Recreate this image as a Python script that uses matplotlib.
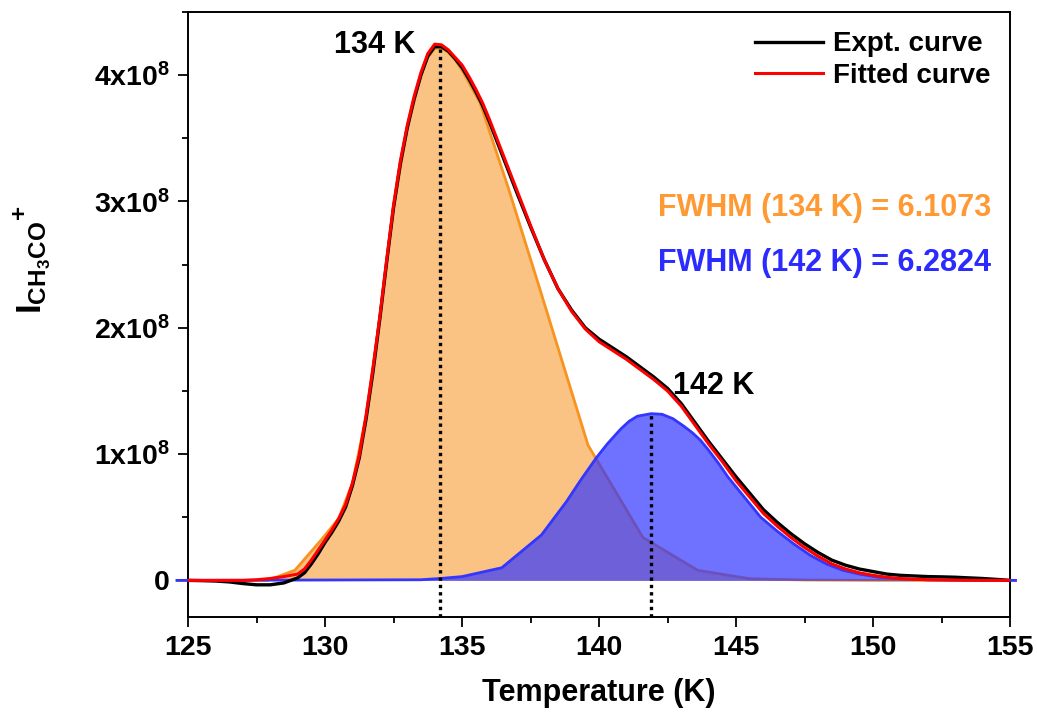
"""
Deconvolution of the CH3CO+ TPD trace into two desorption peaks.
"""

import numpy as np
import matplotlib.pyplot as plt
from matplotlib.ticker import MultipleLocator, FixedLocator, FixedFormatter

plt.rcParams["font.family"] = "Liberation Sans"
plt.rcParams["font.weight"] = "bold"
plt.rcParams["mathtext.fontset"] = "custom"
plt.rcParams["mathtext.rm"] = "Liberation Sans:bold"
plt.rcParams["mathtext.bf"] = "Liberation Sans:bold"
plt.rcParams["mathtext.it"] = "Liberation Sans:bold"

SCALE = 1e8

# ── Data (intensity in units of 1e8) ──────────────────────────────────
temp = np.concatenate([np.arange(125.0, 128.6, 0.5),
                       np.arange(129.0, 137.01, 0.25),
                       np.arange(137.5, 155.01, 0.5)])

expt = [0.0, -0.002, -0.005, -0.012, -0.025, -0.035, -0.035, -0.02,
        0.02, 0.06, 0.13, 0.21, 0.30, 0.38, 0.47, 0.58, 0.75, 0.97,
        1.28, 1.65, 2.07, 2.52, 2.95, 3.30, 3.58, 3.81, 4.00, 4.15,
        4.225, 4.225, 4.19, 4.13, 4.06, 3.97, 3.87, 3.76, 3.63, 3.49,
        3.35, 3.21, 3.07,
        2.80, 2.54, 2.31, 2.14, 2.00, 1.91, 1.84, 1.77, 1.69, 1.61,
        1.52, 1.40, 1.25, 1.10, 0.96, 0.82, 0.69, 0.56, 0.46, 0.37,
        0.29, 0.22, 0.16, 0.12, 0.09, 0.07, 0.05, 0.04, 0.035, 0.03,
        0.028, 0.025, 0.02, 0.015, 0.008, 0.0]

fitted = [0.0, 0.0, 0.0, 0.0, 0.0, 0.005, 0.015, 0.03,
          0.05, 0.09, 0.16, 0.24, 0.32, 0.40, 0.49, 0.60, 0.77, 0.99,
          1.31, 1.68, 2.09, 2.54, 2.97, 3.32, 3.60, 3.83, 4.02, 4.17,
          4.245, 4.24, 4.20, 4.14, 4.08, 3.99, 3.89, 3.78, 3.65, 3.51,
          3.37, 3.23, 3.09,
          2.81, 2.54, 2.31, 2.13, 1.99, 1.89, 1.82, 1.75, 1.67, 1.59,
          1.50, 1.38, 1.23, 1.08, 0.94, 0.79, 0.66, 0.53, 0.43, 0.34,
          0.26, 0.19, 0.13, 0.09, 0.06, 0.04, 0.025, 0.015, 0.01, 0.006,
          0.004, 0.002, 0.001, 0.0, 0.0, 0.0]

temp_p1 = [124.6, 126.5, 127.9, 128.9, 129.9, 130.5, 131.0, 131.5, 132.0, 132.5,
           133.0, 133.5, 133.75, 134.0, 134.25, 134.5, 134.75, 135.0, 135.66, 136.7,
           137.85, 139.6, 141.6, 143.6, 145.5, 147.5, 150.0, 155.2]
peak1 = [0.0, 0.0, 0.0, 0.08, 0.33, 0.49, 0.77, 1.30, 2.08, 2.95,
         3.58, 4.00, 4.14, 4.21, 4.215, 4.18, 4.12, 4.04, 3.78, 3.10,
         2.30, 1.07, 0.34, 0.08, 0.013, 0.003, 0.0, 0.0]

temp_p2 = [124.6, 133.5, 134.2, 135.0, 136.45, 137.9, 138.8, 139.35, 139.9, 140.3,
           140.8, 141.1, 141.4, 141.9, 142.3, 142.7, 143.1, 143.4, 143.7, 144.0,
           144.35, 144.7, 145.3, 145.9, 146.5, 147.1, 147.7, 148.3, 148.9, 149.5,
           150.2, 151.0, 152.0, 155.2]
peak2 = [0.0, 0.005, 0.015, 0.03, 0.10, 0.36, 0.62, 0.80, 0.97, 1.08,
         1.20, 1.26, 1.30, 1.32, 1.315, 1.28, 1.22, 1.17, 1.11, 1.03,
         0.93, 0.82, 0.66, 0.50, 0.39, 0.29, 0.20, 0.13, 0.08, 0.05,
         0.025, 0.012, 0.004, 0.0]

peak_pos = [134.2, 141.9]
peak_top = [4.22, 1.32]
peak_labels = ["134 K", "142 K"]
fwhm_labels = ["FWHM (134 K) = 6.1073", "FWHM (142 K) = 6.2824"]

y_ticks = [0, 1, 2, 3, 4]
y_tick_labels = ["0", r"$\mathbf{1x10^{8}}$", r"$\mathbf{2x10^{8}}$",
                 r"$\mathbf{3x10^{8}}$", r"$\mathbf{4x10^{8}}$"]

ORANGE = "#F7931E"
BLUE = "#3236FF"

fig = plt.figure(figsize=(10.37, 7.22), dpi=100)
ax = fig.add_axes([0.1813, 0.1454, 0.7927, 0.838])

p1 = np.array(peak1) * SCALE
p2 = np.array(peak2) * SCALE

# component fills: orange first, blue semi-transparent on top
ax.fill_between(temp_p1, 0, p1, color=ORANGE, alpha=0.55, lw=0, zorder=1)
ax.plot(temp_p1, p1, color=ORANGE, lw=2, zorder=2, clip_on=False)
ax.fill_between(temp_p2, 0, p2, color=BLUE, alpha=0.7, lw=0, zorder=3)
ax.plot(temp_p2, p2, color=BLUE, lw=2, zorder=4, clip_on=False)

ax.plot(temp, np.array(expt) * SCALE, color="black", lw=2.4, zorder=5,
        label="Expt. curve")
ax.plot(temp, np.array(fitted) * SCALE, color="red", lw=2.2, zorder=6,
        label="Fitted curve")

ylo = -0.29 * SCALE
for xp, yt in zip(peak_pos, peak_top):
    ax.plot([xp, xp], [ylo, yt * SCALE], color="black", ls=(0, (1, 1.2)),
            lw=2.4, zorder=7)

ax.text(131.8, 4.24 * SCALE, peak_labels[0], fontsize=22, fontweight="bold",
        ha="center", va="center")
ax.text(144.2, 1.54 * SCALE, peak_labels[1], fontsize=22, fontweight="bold",
        ha="center", va="center")

ax.text(154.3, 2.95 * SCALE, fwhm_labels[0], color="#FF9933", fontsize=22,
        fontweight="bold", ha="right", va="center")
ax.text(154.3, 2.51 * SCALE, fwhm_labels[1], color="#2B2BFF", fontsize=22,
        fontweight="bold", ha="right", va="center")

ax.set_xlim(125, 155)
ax.set_ylim(ylo, 4.5 * SCALE)

ax.xaxis.set_major_locator(MultipleLocator(5))
ax.xaxis.set_minor_locator(MultipleLocator(2.5))
ax.yaxis.set_major_locator(FixedLocator([v * SCALE for v in y_ticks]))
ax.yaxis.set_major_formatter(FixedFormatter(y_tick_labels))
ax.yaxis.set_minor_locator(MultipleLocator(0.5 * SCALE))

ax.tick_params(which="major", direction="out", length=7, width=1.3,
               labelsize=20.5, pad=6)
ax.tick_params(which="minor", direction="out", length=4, width=1.3)
for sp in ax.spines.values():
    sp.set_linewidth(1.4)

ax.set_xlabel("Temperature (K)", fontsize=22, fontweight="bold", labelpad=12)
ax.set_ylabel(r"$\mathbf{I_{CH_3CO}{}^{+}}$", fontsize=25)
ax.yaxis.set_label_coords(-0.164, 0.59)

ax.legend(loc="upper right", frameon=False, handlelength=2.45,
          handletextpad=0.36, labelspacing=0.2, borderaxespad=0.3,
          prop={"weight": "bold", "size": 20})

fig.savefig("out.png", dpi=100)
